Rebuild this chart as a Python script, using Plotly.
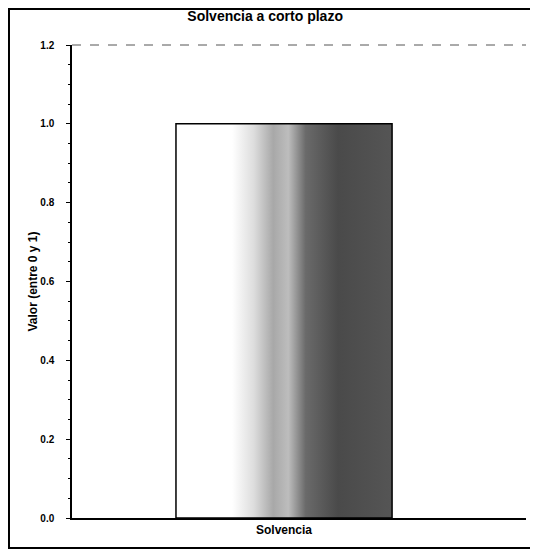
import plotly.graph_objects as go

categories = ["Solvencia"]
values = [1.0]
y_ticks = [0.0, 0.2, 0.4, 0.6, 0.8, 1.0, 1.2]
y_ticktext = ["0.0", "0.2", "0.4", "0.6", "0.8", "1.0", "1.2"]
title_text = "Solvencia a corto plazo"
y_title = "Valor (entre 0 y 1)"

bar_width = 0.476
xpos = list(range(len(categories)))

fig = go.Figure()

# gradient fill of each bar (built from the data value and bar width)
for xc, v in zip(xpos, values):
    x0, x1 = xc - bar_width / 2, xc + bar_width / 2
    fig.add_trace(go.Scatter(
        x=[x0, x1, x1, x0, x0], y=[0, 0, v, v, 0],
        mode="lines", fill="toself",
        fillgradient=dict(type="horizontal", colorscale=[
            [0.0, "#ffffff"], [0.26, "#ffffff"], [0.36, "#dddddd"],
            [0.45, "#a8a8a8"], [0.52, "#bdbdbd"], [0.6, "#6a6a6a"],
            [0.75, "#4a4a4a"], [1.0, "#555555"]]),
        line=dict(color="black", width=1.5),
        hoverinfo="skip", showlegend=False))

fig.add_trace(go.Bar(
    x=xpos, y=values, width=bar_width,
    marker=dict(color="rgba(0,0,0,0)", line=dict(width=0)),
    showlegend=False))

fig.update_layout(
    width=538, height=553,
    margin=dict(l=64, r=20, t=37, b=43, autoexpand=False),
    paper_bgcolor="white", plot_bgcolor="white",
    font=dict(family="Liberation Sans, Arial, sans-serif", color="black"),
    title=dict(text="<b>" + title_text + "</b>", x=0.478, xref="container",
               xanchor="center", y=1 - 8 / 553, yref="container", yanchor="middle",
               font=dict(size=14), automargin=False),
    xaxis=dict(range=[-0.467, 0.533], tickvals=xpos, automargin=False,
               ticktext=["<b>" + c + "</b>" for c in categories],
               showgrid=False, zeroline=False, showline=True,
               linecolor="black", linewidth=2, ticks="",
               tickfont=dict(size=12)),
    yaxis=dict(range=[0, 1.2], tickvals=y_ticks, automargin=False,
               ticktext=["<b>" + t + "</b>" for t in y_ticktext],
               showgrid=False, zeroline=False, showline=True,
               linecolor="black", linewidth=1.5,
               ticks="outside", ticklen=4, tickcolor="black",
               ticklabelstandoff=10,
               minor=dict(ticks="outside", ticklen=2, dtick=0.05, tickcolor="black"),
               tickfont=dict(size=10),
               title=dict(text="<b>" + y_title + "</b>", font=dict(size=12),
                          standoff=0)),
    shapes=[
        dict(type="line", xref="paper", yref="paper", x0=0, x1=1, y0=1, y1=1,
             line=dict(color="#555555", width=1, dash="dash")),
        dict(type="rect", xref="paper", yref="paper",
             x0=-0.1388, x1=1.0176, y0=-0.0634, y1=1.0761,
             line=dict(color="black", width=2)),
    ],
)

fig.write_html("out.html")
